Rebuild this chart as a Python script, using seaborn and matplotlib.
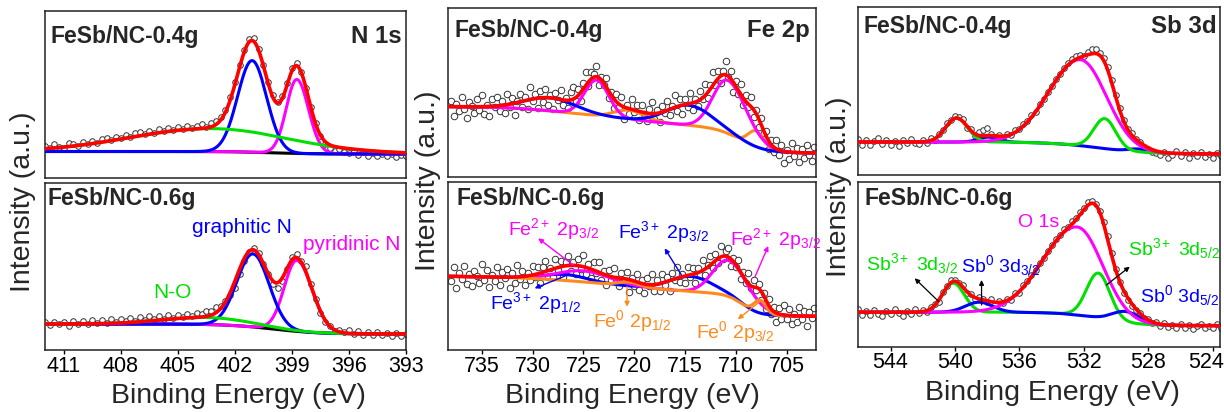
import numpy as np
import matplotlib
matplotlib.use("Agg")
import matplotlib.pyplot as plt
from matplotlib.transforms import ScaledTranslation
import seaborn as sns

# ---------------------------------------------------------------------------
# Binding-energy grids of the recorded spectra (eV, 0.25 eV step)
# ---------------------------------------------------------------------------
n1s_energy = np.arange(412.0, 392.99, -0.25)
fe2p_energy = np.arange(738.0, 702.24, -0.25)
sb3d_energy = np.arange(546.0, 523.49, -0.25)

# Recorded intensities (a.u.)
n1s_04 = [32.1, 30.4, 34.0, 31.2, 29.8, 35.1, 33.6, 31.9, 36.4, 34.2,
          37.5, 35.0, 38.8, 39.9, 37.6, 41.3, 40.2, 43.5, 41.1, 44.6,
          45.9, 43.8, 47.2, 45.0, 48.6, 47.1, 49.8, 48.0, 51.2, 49.3,
          52.0, 50.4, 51.6, 53.8, 51.5, 55.0, 57.2, 61.4, 68.3, 80.9,
          96.0, 113.5, 128.1, 139.0, 140.2, 129.5, 113.0, 95.7, 82.6, 76.1,
          82.4, 95.0, 110.1, 115.3, 106.0, 90.5, 71.5, 55.0, 42.5, 34.5,
          30.5, 27.4, 28.6, 25.9, 24.8, 26.9, 23.2, 25.6, 22.4, 25.3,
          21.6, 23.9, 22.0, 24.1, 20.8, 22.9, 21.9]
n1s_06 = [27.8, 24.9, 28.4, 25.6, 27.9, 24.3, 29.0, 26.2, 28.8, 26.0,
          30.1, 27.4, 29.6, 27.2, 31.3, 28.0, 31.0, 28.6, 32.4, 29.5,
          32.7, 30.1, 34.0, 31.2, 33.9, 31.5, 34.8, 32.1, 35.2, 33.0,
          36.1, 34.2, 37.4, 36.0, 39.2, 39.0, 42.6, 44.1, 49.0, 54.8,
          62.5, 76.0, 89.5, 97.8, 102.4, 97.5, 86.0, 76.2, 66.1, 62.4,
          68.9, 81.0, 92.8, 95.6, 89.2, 84.1, 66.0, 50.8, 37.3, 27.6,
          24.1, 19.2, 20.4, 17.6, 19.8, 16.3, 18.9, 15.2, 17.8, 14.6,
          18.1, 15.4, 17.2, 14.1, 16.9, 13.8, 15.6]
fe2p_04 = [76.4, 61.4, 73.3, 66.3, 80.3, 68.3, 59.3, 75.3, 71.3, 64.3,
           78.3, 67.3, 82.3, 63.4, 72.5, 60.6, 77.7, 70.0, 80.2, 66.5,
           75.7, 64.1, 83.5, 69.9, 79.3, 61.9, 76.5, 83.1, 69.7, 80.3,
           67.9, 90.4, 76.0, 83.3, 68.6, 85.9, 75.2, 88.1, 72.0, 81.9,
           67.8, 84.4, 76.9, 87.5, 72.0, 79.2, 69.5, 84.7, 89.9, 76.4,
           87.9, 76.5, 94.0, 105.0, 91.0, 105.0, 102.9, 111.0, 92.5, 100.5,
           92.3, 99.4, 79.5, 85.5, 68.6, 82.6, 70.5, 80.5, 58.4, 71.8,
           63.1, 78.5, 64.8, 71.9, 57.1, 72.2, 63.3, 56.1, 67.9, 74.7,
           58.5, 67.1, 54.7, 71.2, 63.8, 75.8, 61.7, 70.7, 81.6, 66.4,
           78.2, 63.0, 77.8, 70.3, 83.8, 67.3, 77.8, 71.5, 86.2, 77.9,
           92.6, 79.0, 92.4, 104.7, 92.1, 105.9, 93.7, 106.5, 116.3, 99.7,
           105.9, 85.4, 96.1, 83.2, 93.3, 72.5, 81.6, 69.6, 80.5, 60.5,
           67.4, 49.8, 59.2, 44.5, 45.9, 27.7, 37.5, 25.3, 37.1, 22.5,
           31.9, 14.3, 26.7, 17.6, 34.4, 21.3, 29.1, 15.1, 28.0, 19.0,
           31.9, 21.9, 15.9, 29.8]
fe2p_06 = [68.7, 82.6, 61.6, 77.5, 71.5, 84.5, 66.4, 76.4, 64.4, 79.3,
           74.3, 67.2, 86.2, 70.1, 80.0, 63.0, 74.9, 68.9, 82.8, 64.8,
           77.8, 71.8, 80.8, 61.8, 76.8, 67.0, 85.1, 71.3, 79.4, 64.8,
           77.2, 69.6, 84.0, 72.7, 83.3, 67.0, 82.6, 89.4, 73.3, 82.1,
           72.9, 90.6, 80.4, 89.1, 72.8, 88.0, 94.3, 79.5, 87.7, 76.4,
           91.0, 80.7, 95.3, 76.5, 85.6, 71.8, 87.9, 76.9, 87.9, 69.9,
           78.9, 65.1, 80.4, 69.6, 81.8, 71.5, 64.1, 76.8, 68.4, 77.8,
           58.2, 71.6, 64.0, 76.2, 60.5, 69.7, 56.9, 71.8, 63.7, 75.6,
           59.5, 70.0, 58.6, 76.1, 64.6, 73.5, 59.4, 77.2, 70.1, 82.8,
           67.6, 76.3, 67.0, 82.6, 73.2, 81.8, 67.4, 81.6, 74.8, 90.0,
           75.2, 85.3, 94.3, 82.4, 96.4, 87.5, 103.7, 90.8, 98.9, 102.0,
           83.9, 91.7, 82.6, 89.6, 70.6, 78.5, 67.5, 76.8, 62.1, 70.4,
           59.7, 66.4, 50.0, 56.7, 41.3, 51.2, 36.2, 43.1, 28.0, 42.4,
           30.8, 45.2, 30.6, 41.4, 26.3, 36.1, 27.9, 42.9, 30.8, 38.8,
           23.7, 37.7, 31.7, 41.6]
sb3d_04 = [36.2, 30.5, 34.8, 29.9, 33.6, 37.1, 31.2, 35.0, 30.1, 33.9,
           29.4, 34.7, 31.8, 36.3, 32.5, 30.6, 35.4, 32.0, 37.2, 35.1,
           41.3, 45.2, 51.8, 55.1, 59.3, 58.0, 55.6, 47.5, 45.9, 39.4,
           42.6, 44.8, 47.1, 41.0, 37.6, 40.2, 37.3, 41.5, 39.8, 44.9,
           46.3, 51.0, 54.2, 59.9, 63.5, 70.8, 76.1, 83.5, 88.6, 96.3,
           101.0, 107.4, 112.2, 116.0, 119.3, 120.4, 118.7, 122.9, 125.6, 126.2,
           122.5, 116.8, 107.9, 95.3, 80.2, 67.0, 55.4, 46.2, 41.8, 36.0,
           33.5, 28.4, 26.0, 23.1, 21.9, 19.8, 22.6, 17.5, 20.4, 24.3,
           18.6, 22.9, 17.1, 21.7, 19.3, 23.5, 18.2, 20.9, 16.8, 22.1, 19.4]
sb3d_06 = [37.3, 32.1, 35.9, 31.4, 36.8, 33.0, 30.7, 35.5, 32.4, 37.6,
           33.8, 31.1, 36.0, 33.2, 37.9, 33.5, 36.8, 34.9, 39.7, 43.0,
           45.2, 55.1, 60.4, 66.3, 67.2, 64.1, 61.5, 53.4, 52.8, 47.6,
           49.9, 48.2, 44.4, 47.3, 43.1, 45.8, 43.6, 47.9, 47.2, 53.4,
           54.0, 61.8, 65.3, 71.9, 76.4, 83.8, 88.5, 95.9, 101.3, 107.9,
           111.6, 117.4, 120.1, 125.3, 128.6, 134.5, 138.3, 144.6, 146.0, 143.2,
           135.9, 124.7, 110.8, 94.0, 77.5, 65.2, 54.1, 46.9, 41.2, 36.5,
           33.9, 28.7, 27.9, 23.8, 25.0, 20.9, 23.4, 19.6, 21.8, 18.7,
           22.5, 19.0, 21.3, 17.9, 20.6, 22.8, 18.4, 21.1, 19.2, 22.3, 18.9]

# ---------------------------------------------------------------------------
# Peak-fit results: centre (eV), height (a.u.), FWHM on the high-/low-BE side
# ---------------------------------------------------------------------------
n1s_04_species = ["pyridinic N", "graphitic N", "N-O"]
n1s_04_centre = [398.75, 401.10, 403.3]
n1s_04_height = [74.0, 91.5, 23.0]
n1s_04_fwhm_hi = [1.30, 1.80, 10.0]
n1s_04_fwhm_lo = [1.45, 1.80, 10.0]

n1s_06_species = ["pyridinic N", "graphitic N", "N-O"]
n1s_06_centre = [398.75, 401.05, 403.5]
n1s_06_height = [71.0, 73.0, 7.0]
n1s_06_fwhm_hi = [1.55, 2.0, 5.5]
n1s_06_fwhm_lo = [1.90, 2.0, 5.5]

fe2p_species = ["Fe2+", "Fe2+", "Fe3+", "Fe3+", "Fe0", "Fe0"]
fe2p_04_centre = [710.8, 723.7, 714.6, 728.3, 708.0, 720.5]
fe2p_04_height = [53.0, 35.6, 20.0, 13.0, 16.0, 9.0]
fe2p_04_fwhm_hi = [3.4, 2.8, 5.2, 6.0, 1.8, 3.5]
fe2p_04_fwhm_lo = [4.4, 2.8, 5.2, 6.0, 1.8, 3.5]

fe2p_06_centre = [710.7, 725.0, 714.4, 726.8, 707.6, 720.5]
fe2p_06_height = [36.0, 11.0, 15.0, 6.0, 13.0, 4.0]
fe2p_06_fwhm_hi = [3.6, 6.0, 5.0, 5.0, 1.4, 2.5]
fe2p_06_fwhm_lo = [4.6, 6.0, 5.0, 5.0, 1.4, 2.5]

sb3d_species = ["Sb3+", "Sb3+", "Sb0", "Sb0", "O 1s"]
sb3d_04_centre = [539.9, 530.7, 537.9, 528.6, 532.2]
sb3d_04_height = [24.0, 30.0, 5.0, 3.0, 86.0]
sb3d_04_fwhm_hi = [1.6, 1.6, 1.5, 1.5, 4.6]
sb3d_04_fwhm_lo = [1.6, 1.6, 1.5, 1.5, 3.8]

sb3d_06_centre = [540.1, 531.1, 538.5, 529.4, 532.4]
sb3d_06_height = [29.0, 45.0, 10.0, 11.0, 88.0]
sb3d_06_fwhm_hi = [1.6, 1.7, 2.0, 2.0, 5.0]
sb3d_06_fwhm_lo = [1.6, 1.7, 2.0, 2.0, 3.7]

# Step-type (Shirley-like) backgrounds: base level, step centres, heights, widths
n1s_04_bg = (24.0, [400.0], [2.5], [1.0])
n1s_06_bg = (16.0, [400.0], [10.0], [1.2])
fe2p_04_bg = (23.7, [709.5, 718.0, 727.0], [24.0, 14.0, 9.0], [1.2, 4.0, 3.0])
fe2p_06_bg = (33.3, [709.3, 721.0], [21.0, 20.0], [0.8, 5.0])
sb3d_04_bg = (21.0, [531.0], [12.0], [1.5])
sb3d_06_bg = (21.0, [530.8], [13.5], [1.2])

MAGENTA = "#ff00ff"
BLUE = "#0000ff"
GREEN = "#00e000"
ORANGE = "#ff8a1c"
RED = "#ff0000"
colours = {"pyridinic N": MAGENTA, "graphitic N": BLUE, "N-O": GREEN,
           "Fe2+": MAGENTA, "Fe3+": BLUE, "Fe0": ORANGE,
           "Sb3+": GREEN, "Sb0": BLUE, "O 1s": MAGENTA}


def background(e, spec):
    base, centres, heights, widths = spec
    bg = np.full_like(e, base, dtype=float)
    for c, h, w in zip(centres, heights, widths):
        bg += h / (1.0 + np.exp(-(e - c) / w))
    return bg


def peak(e, c, h, w_hi, w_lo):
    w = np.where(e >= c, w_hi, w_lo)
    return h * np.exp(-4.0 * np.log(2.0) * (e - c) ** 2 / w ** 2)


W, H = 1224, 412
sns.set_style("ticks")
plt.rcParams["font.family"] = ["Liberation Sans", "DejaVu Sans"]
plt.rcParams["mathtext.fontset"] = "custom"
plt.rcParams["mathtext.rm"] = "Liberation Sans"
plt.rcParams["mathtext.it"] = "Liberation Sans:italic"
plt.rcParams["mathtext.bf"] = "Liberation Sans:bold"

fig = plt.figure(figsize=(W / 100, H / 100), dpi=100)


def add_axes(x0, x1, y0, y1):
    return fig.add_axes([x0 / W, (H - y1) / H, (x1 - x0) / W, (y1 - y0) / H])


panels = [
    dict(rect=(45, 406, 11, 178), energy=n1s_energy, counts=n1s_04, xlim=(412, 393),
         species=n1s_04_species, centre=n1s_04_centre, height=n1s_04_height,
         fwhm_hi=n1s_04_fwhm_hi, fwhm_lo=n1s_04_fwhm_lo, bg=n1s_04_bg,
         order=["pyridinic N", "graphitic N", "N-O"], black_bg=True, msize=16,
         sample="FeSb/NC-0.4g", sample_pos=(5, 32), element="N 1s", element_pos=(4.3, 32),
         bottom=False),
    dict(rect=(45, 406, 183, 350), energy=n1s_energy, counts=n1s_06, xlim=(412, 393),
         species=n1s_06_species, centre=n1s_06_centre, height=n1s_06_height,
         fwhm_hi=n1s_06_fwhm_hi, fwhm_lo=n1s_06_fwhm_lo, bg=n1s_06_bg,
         order=["pyridinic N", "graphitic N", "N-O"], black_bg=True, msize=16,
         sample="FeSb/NC-0.6g", sample_pos=(2.5, 22), element=None,
         bottom=True, ticks=[411, 408, 405, 402, 399, 396, 393], label_x=238, label_y=403),
    dict(rect=(448.3, 816, 8.3, 177), energy=fe2p_energy, counts=fe2p_04, xlim=(738.3, 702.1),
         species=fe2p_species, centre=fe2p_04_centre, height=fe2p_04_height,
         fwhm_hi=fe2p_04_fwhm_hi, fwhm_lo=fe2p_04_fwhm_lo, bg=fe2p_04_bg,
         order=["Fe0", "Fe2+", "Fe3+"], black_bg=False, msize=22,
         sample="FeSb/NC-0.4g", sample_pos=(6.7, 28.4), element="Fe 2p", element_pos=(6, 28.4),
         bottom=False),
    dict(rect=(448.3, 816, 182, 350), energy=fe2p_energy, counts=fe2p_06, xlim=(738.3, 702.1),
         species=fe2p_species, centre=fe2p_06_centre, height=fe2p_06_height,
         fwhm_hi=fe2p_06_fwhm_hi, fwhm_lo=fe2p_06_fwhm_lo, bg=fe2p_06_bg,
         order=["Fe3+", "Fe2+", "Fe0"], black_bg=False, msize=22,
         sample="FeSb/NC-0.6g", sample_pos=(8.4, 23), element=None,
         bottom=True, ticks=[735, 730, 725, 720, 715, 710, 705], label_x=632.5, label_y=403),
    dict(rect=(858.3, 1220, 7, 175), energy=sb3d_energy, counts=sb3d_04, xlim=(546, 523.55),
         species=sb3d_species, centre=sb3d_04_centre, height=sb3d_04_height,
         fwhm_hi=sb3d_04_fwhm_hi, fwhm_lo=sb3d_04_fwhm_lo, bg=sb3d_04_bg,
         order=["Sb0", "Sb3+", "O 1s"], black_bg=False, msize=16,
         sample="FeSb/NC-0.4g", sample_pos=(5, 26.3), element="Sb 3d", element_pos=(3.3, 26.3),
         bottom=False),
    dict(rect=(858.3, 1220, 182, 346.7), energy=sb3d_energy, counts=sb3d_06, xlim=(546, 523.55),
         species=sb3d_species, centre=sb3d_06_centre, height=sb3d_06_height,
         fwhm_hi=sb3d_06_fwhm_hi, fwhm_lo=sb3d_06_fwhm_lo, bg=sb3d_06_bg,
         order=["Sb3+", "Sb0", "O 1s"], black_bg=False, msize=16,
         sample="FeSb/NC-0.6g", sample_pos=(6.7, 23), element=None,
         bottom=True, ticks=[544, 540, 536, 532, 528, 524], label_x=1052, label_y=400),
]

axes = []
for p in panels:
    x0, x1, y0, y1 = p["rect"]
    ax = add_axes(x0, x1, y0, y1)
    axes.append(ax)
    grid = np.linspace(p["xlim"][0], p["xlim"][1], 900)
    bg = background(grid, p["bg"])

    # measured points
    sns.scatterplot(x=p["energy"], y=p["counts"], ax=ax, s=p["msize"], color="white",
                    edgecolor="#333333", linewidth=0.7, zorder=2, legend=False)

    components = {}
    total = bg.copy()
    for sp, c, h, wh, wl in zip(p["species"], p["centre"], p["height"],
                                p["fwhm_hi"], p["fwhm_lo"]):
        pk = peak(grid, c, h, wh, wl)
        components[sp] = components.get(sp, 0.0) + pk
        total += pk

    z = 3
    if p["black_bg"]:
        sns.lineplot(x=grid, y=bg, ax=ax, color="black", linewidth=2.2,
                     errorbar=None, zorder=z)
        z += 1
    for sp in p["order"]:
        sns.lineplot(x=grid, y=bg + components[sp], ax=ax, color=colours[sp],
                     linewidth=2.2, errorbar=None, zorder=z)
        z += 1
    sns.lineplot(x=grid, y=total, ax=ax, color=RED, linewidth=2.6,
                 errorbar=None, zorder=z)

    ax.set_xlim(*p["xlim"])
    ax.set_ylim(0, y1 - y0)
    ax.set_yticks([])
    ax.set_ylabel("")
    for s in ax.spines.values():
        s.set_linewidth(1.1)
        s.set_color("#222222")
        s.set_visible(True)
    if p["bottom"]:
        ax.set_xticks(p["ticks"])
        ax.set_xticklabels([str(t) for t in p["ticks"]])
        ax.tick_params(axis="x", direction="out", length=3, width=1.0, pad=1,
                       labelsize=15.5, colors="black")
        ax.set_xlabel("Binding Energy (eV)", fontsize=20.5, va="baseline")
        ax.xaxis.set_label_coords((p["label_x"] - x0) / (x1 - x0),
                                  (y1 - p["label_y"]) / (y1 - y0))
    else:
        ax.set_xticks([])
        ax.tick_params(axis="x", bottom=False, labelbottom=False)
        ax.set_xlabel("")
    ax.tick_params(axis="y", left=False, labelleft=False)

    sx, sy = p["sample_pos"]
    ax.annotate(p["sample"], xy=(0, 1), xycoords="axes fraction",
                xytext=(sx * 0.72, -sy * 0.72), textcoords="offset points",
                ha="left", va="baseline", fontsize=16.5, fontweight="bold")
    if p["element"]:
        ex, ey = p["element_pos"]
        ax.annotate(p["element"], xy=(1, 1), xycoords="axes fraction",
                    xytext=(-ex * 0.72, -ey * 0.72), textcoords="offset points",
                    ha="right", va="baseline", fontsize=17.3, fontweight="bold")

# keep the last Sb 3d tick label inside the figure edge
last = axes[5].get_xticklabels()[-1]
last.set_transform(last.get_transform() + ScaledTranslation(-0.07, 0, fig.dpi_scale_trans))

# column y-labels
for xc, yc in [(23, 201.5), (428, 181), (839, 187)]:
    fig.text(xc / W, 1 - yc / H, "Intensity (a.u.)", rotation=90,
             ha="center", va="center", fontsize=20.5)

# peak assignments, N 1s (0.6 g)
axB = axes[1]
for txt, e, i, col in [("graphitic N", 404.28, 116.7, BLUE),
                       ("pyridinic N", 398.4, 100.0, MAGENTA),
                       ("N-O", 406.3, 51.7, GREEN)]:
    axB.text(e, i, txt, color=col, fontsize=15, ha="left", va="baseline")

# peak assignments, Fe 2p (0.6 g)
axD = axes[3]
for txt, e, i, col in [(r"Fe$^{2+}$ 2p$_{3/2}$", 732.4, 115.0, MAGENTA),
                       (r"Fe$^{3+}$ 2p$_{1/2}$", 734.2, 40.7, BLUE),
                       (r"Fe$^{3+}$ 2p$_{3/2}$", 721.6, 111.7, BLUE),
                       (r"Fe$^{2+}$ 2p$_{3/2}$", 710.6, 105.0, MAGENTA),
                       (r"Fe$^{0}$ 2p$_{1/2}$", 724.1, 23.3, ORANGE),
                       (r"Fe$^{0}$ 2p$_{3/2}$", 713.9, 11.7, ORANGE)]:
    axD.text(e, i, txt, color=col, fontsize=14, ha="left", va="baseline", zorder=20)
for head, tail, col in [((729.45, 111.7), (726.0, 85.0), MAGENTA),
                        ((729.8, 61.7), (726.8, 74.0), BLUE),
                        ((717.0, 101.7), (715.35, 75.0), BLUE),
                        ((706.8, 104.0), (708.1, 73.3), MAGENTA),
                        ((720.7, 43.3), (720.7, 63.3), ORANGE),
                        ((709.8, 30.7), (707.65, 48.3), ORANGE)]:
    axD.annotate("", xy=head, xytext=tail,
                 arrowprops=dict(arrowstyle="-|>", color=col, lw=1.0,
                                 mutation_scale=7, shrinkA=0, shrinkB=0), zorder=20)

# peak assignments, Sb 3d / O 1s (0.6 g)
axF = axes[5]
for txt, e, i, col in [(r"Sb$^{3+}$ 3d$_{3/2}$", 545.5, 76.7, GREEN),
                       (r"Sb$^{0}$ 3d$_{3/2}$", 539.6, 75.0, BLUE),
                       ("O 1s", 536.1, 120.0, MAGENTA),
                       (r"Sb$^{3+}$ 3d$_{5/2}$", 529.25, 91.7, GREEN),
                       (r"Sb$^{0}$ 3d$_{5/2}$", 528.5, 45.0, BLUE)]:
    axF.text(e, i, txt, color=col, fontsize=14, ha="left", va="baseline", zorder=20)
for head, tail in [((542.5, 68.4), (541.0, 45.0)),
                   ((538.35, 66.7), (538.35, 41.7)),
                   ((529.15, 80.0), (530.6, 61.7))]:
    axF.annotate("", xy=head, xytext=tail,
                 arrowprops=dict(arrowstyle="-|>", color="black", lw=0.9,
                                 mutation_scale=7, shrinkA=0, shrinkB=0), zorder=20)

fig.savefig("out.png", dpi=100)
